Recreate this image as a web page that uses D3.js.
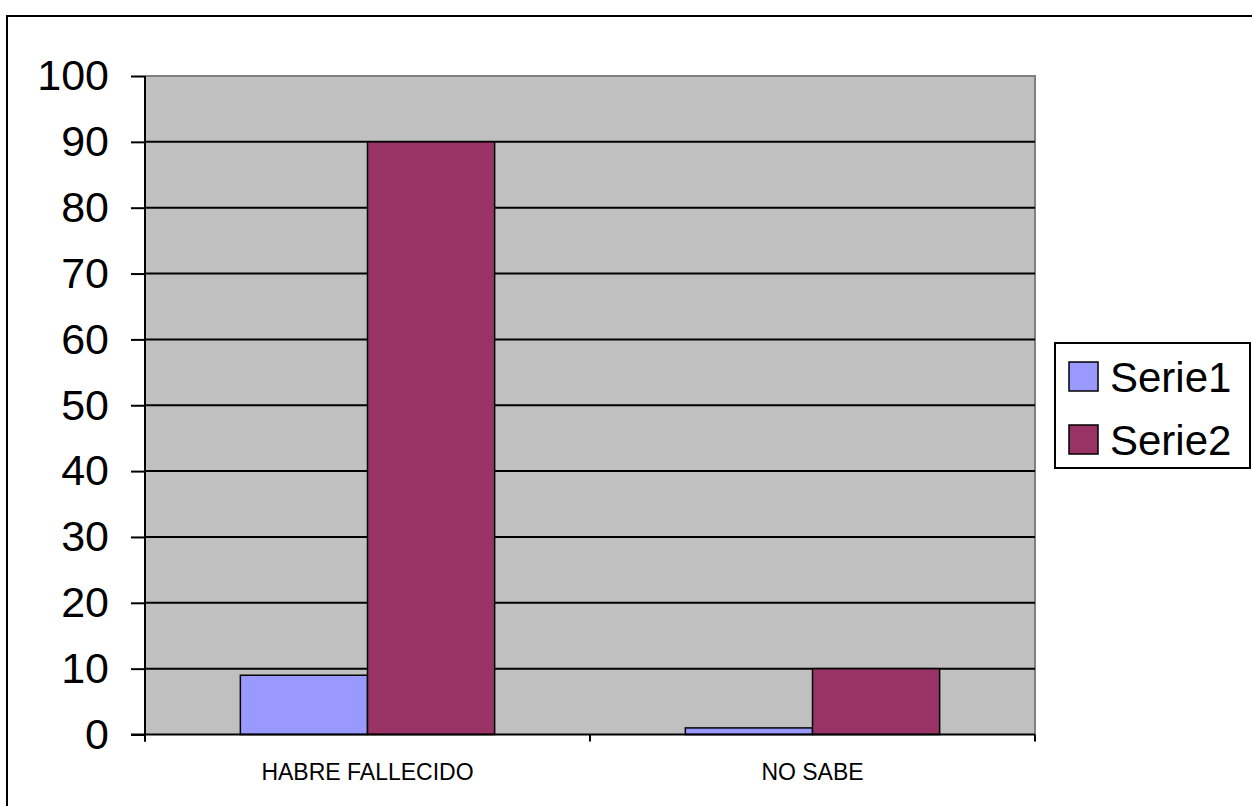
<!DOCTYPE html>
<html>
<head>
<meta charset="utf-8">
<script src="https://cdn.jsdelivr.net/npm/d3@7/dist/d3.min.js"></script>
<style>
  html, body { margin: 0; padding: 0; background: #fff; }
  svg { display: block; font-family: Arial, "Liberation Sans", sans-serif; }
</style>
</head>
<body>
<svg id="chart" width="1252" height="806"></svg>
<script>
// Chart data
const categories = ["HABRE FALLECIDO", "NO SABE"];
const seriesNames = ["Serie1", "Serie2"];
const serie1 = [9, 1];
const serie2 = [90, 10];
const yTicks = [0, 10, 20, 30, 40, 50, 60, 70, 80, 90, 100];
const seriesColors = ["#9999FF", "#993366"];

const seriesValues = [serie1, serie2];

const svg = d3.select("#chart");

// Outer chart frame (only left and top edges fall inside the view)
svg.append("path")
  .attr("d", "M7,806 L7,16 L1252,16")
  .attr("fill", "none")
  .attr("stroke", "#000")
  .attr("stroke-width", 2);

const plot = { left: 145, top: 76, right: 1035, bottom: 734.5 };

const x0 = d3.scaleBand()
  .domain(categories)
  .range([plot.left, plot.right])
  .paddingInner(0)
  .paddingOuter(0);

const y = d3.scaleLinear()
  .domain([0, 100])
  .range([plot.bottom, plot.top]);

// Bars occupy 2 of 3.5 bar-widths in each category band (gap width 150%)
const barW = x0.bandwidth() / 3.5;
const x1 = d3.scaleBand()
  .domain(seriesNames)
  .range([0.75 * barW, 2.75 * barW]);

// Plot area background
svg.append("rect")
  .attr("x", plot.left).attr("y", plot.top)
  .attr("width", plot.right - plot.left)
  .attr("height", plot.bottom - plot.top)
  .attr("fill", "#C0C0C0");

// Grey border on top and right of the plot area
svg.append("path")
  .attr("d", `M${plot.left},${plot.top} L${plot.right},${plot.top} L${plot.right},${plot.bottom}`)
  .attr("fill", "none")
  .attr("stroke", "#808080")
  .attr("stroke-width", 2);

// Horizontal gridlines
svg.append("g")
  .selectAll("line")
  .data(yTicks.filter(t => t > 0 && t < 100))
  .join("line")
  .attr("x1", plot.left).attr("x2", plot.right)
  .attr("y1", d => y(d)).attr("y2", d => y(d))
  .attr("stroke", "#000")
  .attr("stroke-width", 2);

// Bars
const groups = svg.append("g")
  .selectAll("g")
  .data(categories)
  .join("g")
  .attr("transform", d => `translate(${x0(d)},0)`);

groups.selectAll("rect")
  .data((c, i) => seriesNames.map((s, k) => ({ s, v: seriesValues[k][i], k })))
  .join("rect")
  .attr("x", d => x1(d.s))
  .attr("y", d => y(d.v))
  .attr("width", x1.bandwidth())
  .attr("height", d => y(0) - y(d.v))
  .attr("fill", d => seriesColors[d.k])
  .attr("stroke", "#000")
  .attr("stroke-width", 1.5);

// Y axis
const yAxis = d3.axisLeft(y)
  .tickValues(yTicks)
  .tickSize(14)
  .tickPadding(22)
  .tickFormat(d3.format("d"));

const gy = svg.append("g")
  .attr("transform", `translate(${plot.left},0)`)
  .call(yAxis);
gy.select(".domain").remove();
gy.selectAll(".tick line").attr("stroke", "#000").attr("stroke-width", 2);
gy.selectAll(".tick text")
  .attr("font-size", 43)
  .attr("fill", "#000")
  .attr("font-family", "Arial, 'Liberation Sans', sans-serif");
svg.append("line")
  .attr("x1", plot.left).attr("x2", plot.left)
  .attr("y1", plot.top).attr("y2", plot.bottom + 7)
  .attr("stroke", "#000").attr("stroke-width", 2);

// X axis
const xAxis = d3.axisBottom(x0).tickSize(0).tickPadding(29);
const gx = svg.append("g")
  .attr("transform", `translate(0,${plot.bottom})`)
  .call(xAxis);
gx.select(".domain").remove();
gx.selectAll(".tick text")
  .attr("font-size", 23)
  .attr("fill", "#000")
  .attr("font-family", "Arial, 'Liberation Sans', sans-serif");

svg.append("line")
  .attr("x1", plot.left - 14).attr("x2", plot.right)
  .attr("y1", plot.bottom).attr("y2", plot.bottom)
  .attr("stroke", "#000").attr("stroke-width", 2);

// Category separator ticks below the axis
const sepPositions = categories.map(c => x0(c)).concat([plot.right]);
svg.append("g")
  .selectAll("line")
  .data(sepPositions)
  .join("line")
  .attr("x1", d => d).attr("x2", d => d)
  .attr("y1", plot.bottom).attr("y2", plot.bottom + 7)
  .attr("stroke", "#000").attr("stroke-width", 2);

// Legend
const legend = svg.append("g").attr("transform", "translate(1055,343)");
legend.append("rect")
  .attr("x", 0).attr("y", 0)
  .attr("width", 195).attr("height", 125)
  .attr("fill", "#fff")
  .attr("stroke", "#000")
  .attr("stroke-width", 2);

const items = legend.selectAll("g.item")
  .data(seriesNames)
  .join("g")
  .attr("class", "item")
  .attr("transform", (d, i) => `translate(0,${19 + i * 63})`);

items.append("rect")
  .attr("x", 14).attr("y", 0)
  .attr("width", 29).attr("height", 29)
  .attr("fill", (d, i) => seriesColors[i])
  .attr("stroke", "#000")
  .attr("stroke-width", 1.5);

items.append("text")
  .attr("x", 55).attr("y", 30)
  .attr("font-size", 42)
  .attr("fill", "#000")
  .text(d => d);
</script>
</body>
</html>
